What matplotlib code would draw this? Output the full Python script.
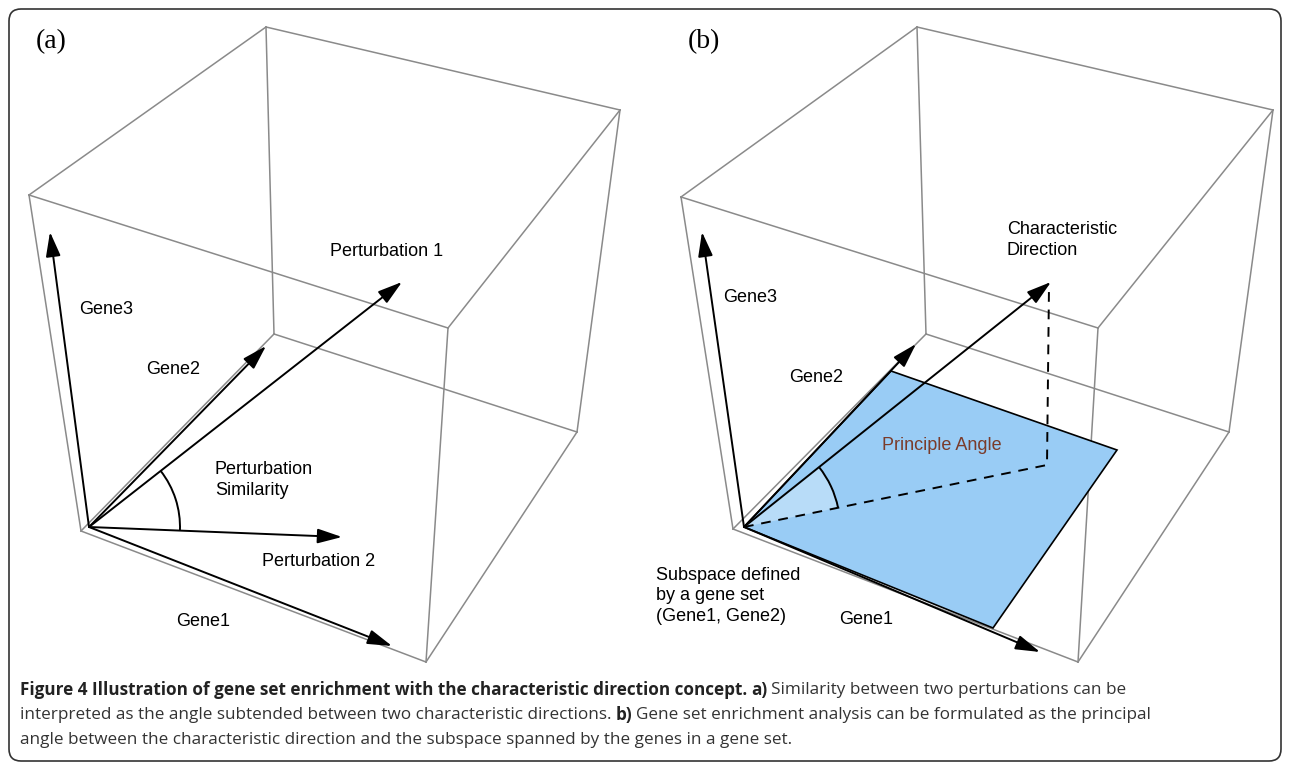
import numpy as np
import matplotlib.pyplot as plt
from matplotlib.patches import FancyBboxPatch, Polygon, Arc, Wedge

# cube corners (pixel coords), panel a
cube_a = {"T1": (266, 27), "T2": (620, 110), "T3": (29, 195), "T4": (448, 328),
          "B1": (274, 334), "B2": (577, 432), "B3": (81, 531), "B4": (426, 662)}
cube_b = {"T1": (917, 27), "T2": (1273, 110), "T3": (681, 197), "T4": (1098, 328),
          "B1": (926, 334), "B2": (1229, 432), "B3": (733, 529), "B4": (1078, 662)}
edges = [("T1", "T2"), ("T1", "T3"), ("T2", "T4"), ("T3", "T4"), ("T1", "B1"), ("T2", "B2"),
         ("T3", "B3"), ("T4", "B4"), ("B1", "B2"), ("B1", "B3"), ("B2", "B4"), ("B3", "B4")]

origin_a = (89, 527)
arrows_a = {"Gene3": (50, 232), "Gene2": (266, 346), "Perturbation 1": (402, 282),
            "Perturbation 2": (342, 537), "Gene1": (392, 646)}
origin_b = (744, 527)
arrows_b = {"Gene3": (702, 232), "Gene2": (916, 344), "Char": (1051, 282), "Gene1": (1040, 652)}
plane_b = [(744, 527), (891, 371), (1117, 450), (993, 628)]
proj_b = (1047, 465)

labels_a = [("(a)", 36, 42, 20, "serif"), ("Perturbation 1", 330, 251, 13, "sans"),
            ("Gene3", 79, 309, 13, "sans"), ("Gene2", 146, 369, 13, "sans"),
            ("Perturbation\nSimilarity", 215, 480, 13, "sans"),
            ("Perturbation 2", 262, 562, 13, "sans"), ("Gene1", 176, 622, 13, "sans")]
labels_b = [("(b)", 688, 42, 20, "serif"), ("Characteristic\nDirection", 1007, 240, 13, "sans"),
            ("Gene3", 723, 297, 13, "sans"), ("Gene2", 789, 378, 13, "sans"),
            ("Subspace defined\nby a gene set\n(Gene1, Gene2)", 656, 596, 13, "sans"),
            ("Gene1", 839, 620, 13, "sans")]

fig = plt.figure(figsize=(12.9, 7.71), dpi=100)
ax = fig.add_axes([0, 0, 1, 1])
ax.set_xlim(0, 1290)
ax.set_ylim(771, 0)
ax.axis("off")

ax.add_patch(FancyBboxPatch((9, 9), 1272, 752, boxstyle="round,pad=0,rounding_size=12",
                            fc="none", ec="#333333", lw=1.2))

for cube in (cube_a, cube_b):
    for a, b in edges:
        ax.plot([cube[a][0], cube[b][0]], [cube[a][1], cube[b][1]], color="#8a8a8a", lw=1.1)

ax.add_patch(Polygon(plane_b, closed=True, fc="#99ccf5", ec="black", lw=1.2, zorder=2))


def arrow(o, t):
    ax.annotate("", xy=t, xytext=o, zorder=4,
                arrowprops=dict(arrowstyle="-|>,head_length=1.5,head_width=0.45",
                                color="black", lw=1.4, shrinkA=0, shrinkB=0))


for t in arrows_a.values():
    arrow(origin_a, t)
for t in arrows_b.values():
    arrow(origin_b, t)


def ang(o, t):
    return np.degrees(np.arctan2(t[1] - o[1], t[0] - o[0]))


# angle arcs
a1, a2 = ang(origin_a, arrows_a["Perturbation 1"]), ang(origin_a, arrows_a["Perturbation 2"])
ax.add_patch(Arc(origin_a, 182, 182, theta1=min(a1, a2), theta2=max(a1, a2), color="black", lw=1.4, zorder=4))
b1, b2 = ang(origin_b, arrows_b["Char"]), ang(origin_b, proj_b)
ax.add_patch(Wedge(origin_b, 96, min(b1, b2), max(b1, b2), fc="#b8dcf8", ec="none", zorder=3))
ax.add_patch(Arc(origin_b, 192, 192, theta1=min(b1, b2), theta2=max(b1, b2), color="black", lw=1.4, zorder=4))
ax.plot([origin_b[0], proj_b[0], arrows_b["Char"][0] - 2], [origin_b[1], proj_b[1], arrows_b["Char"][1] + 4],
        color="black", lw=1.4, ls=(0, (5, 4)), zorder=4)

for txt, x, y, fs, fam in labels_a + labels_b:
    family = "Liberation Serif" if fam == "serif" else "Liberation Sans"
    ax.text(x, y, txt, fontsize=fs, family=family, va="center", ha="left", linespacing=1.3)
ax.text(882, 446, "Principle Angle", fontsize=13, family="Liberation Sans", color="#7a3b2a", va="center")

# caption
cap_x = 20
fs = 12.3
fam = "Open Sans"
t = ax.text(cap_x, 690, "Figure 4 Illustration of gene set enrichment with the characteristic direction concept.",
            fontsize=fs, family=fam, weight="bold", color="#222222", va="center")
fig.canvas.draw()
bb = t.get_window_extent().transformed(ax.transData.inverted())
t2 = ax.text(bb.x1 + 4, 690, "a)", fontsize=fs, family=fam, weight="bold", color="#222222", va="center")
bb2 = t2.get_window_extent().transformed(ax.transData.inverted())
ax.text(bb2.x1 + 4, 690, "Similarity between two perturbations can be", fontsize=fs, family=fam,
        color="#333333", va="center")
t3 = ax.text(cap_x, 715, "interpreted as the angle subtended between two characteristic directions.",
             fontsize=fs, family=fam, color="#333333", va="center")
bb3 = t3.get_window_extent().transformed(ax.transData.inverted())
t4 = ax.text(bb3.x1 + 4, 715, "b)", fontsize=fs, family=fam, weight="bold", color="#222222", va="center")
bb4 = t4.get_window_extent().transformed(ax.transData.inverted())
ax.text(bb4.x1 + 4, 715, "Gene set enrichment analysis can be formulated as the principal", fontsize=fs,
        family=fam, color="#333333", va="center")
ax.text(cap_x, 740, "angle between the characteristic direction and the subspace spanned by the genes in a gene set.",
        fontsize=fs, family=fam, color="#333333", va="center")

fig.savefig("out.png", dpi=100)
